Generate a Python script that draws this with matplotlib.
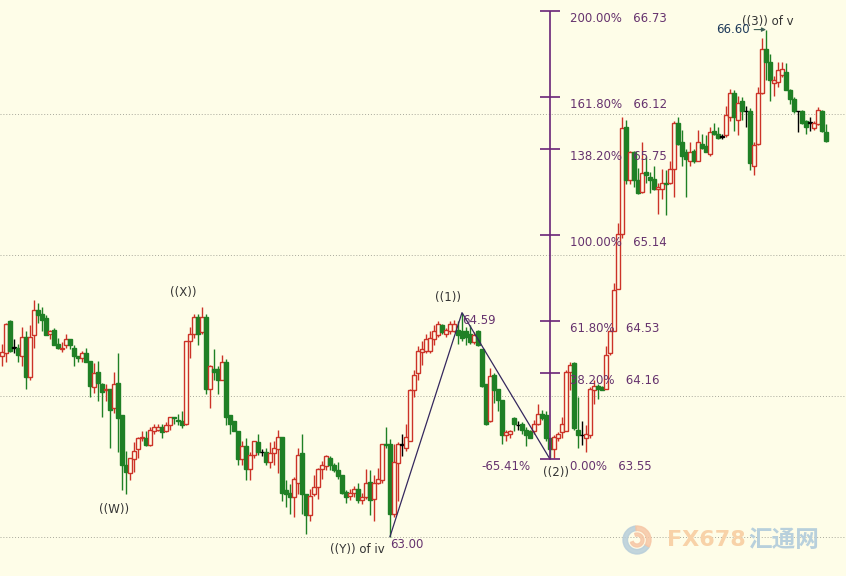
import matplotlib.pyplot as plt
from matplotlib.patches import Rectangle, Wedge

# OHLC of every bar from left to right
opens = [64.28, 64.30, 64.53, 64.34, 64.34, 64.28, 64.42, 64.13, 64.43, 64.61,
         64.58, 64.55, 64.44, 64.47, 64.37, 64.33, 64.36, 64.40, 64.34, 64.28,
         64.27, 64.30, 64.25, 64.06, 64.17, 64.08, 64.04, 64.05, 63.91, 64.09,
         63.86, 63.51, 63.45, 63.55, 63.62, 63.70, 63.70, 63.65, 63.75, 63.76,
         63.78, 63.75, 63.79, 63.85, 63.83, 63.82, 63.80, 64.39, 64.44, 64.56,
         64.45, 64.56, 64.05, 64.19, 64.19, 64.11, 64.24, 63.86, 63.82, 63.75,
         63.55, 63.64, 63.48, 63.58, 63.67, 63.60, 63.60, 63.53, 63.59, 63.62,
         63.71, 63.33, 63.31, 63.28, 63.38, 63.59, 63.30, 63.15, 63.30, 63.35,
         63.48, 63.50, 63.56, 63.51, 63.47, 63.44, 63.32, 63.29, 63.31, 63.34,
         63.26, 63.28, 63.39, 63.27, 63.38, 63.40, 63.66, 63.66, 63.16, 63.52,
         63.65, 63.63, 63.68, 64.04, 64.16, 64.31, 64.32, 64.32, 64.40, 64.43,
         64.50, 64.44, 64.46, 64.46, 64.47, 64.46, 64.46, 64.44, 64.38, 64.46,
         64.33, 64.08, 63.82, 64.15, 64.05, 63.97, 63.72, 63.73, 63.84, 63.79,
         63.80, 63.76, 63.75, 63.75, 63.80, 63.87, 63.86, 63.70, 63.62, 63.70,
         63.74, 63.75, 64.17, 64.23, 63.76, 63.72, 63.70, 63.72, 64.04, 64.07,
         64.06, 64.05, 64.30, 64.46, 64.76, 65.15, 65.91, 65.53, 65.73, 65.53,
         65.45, 65.59, 65.55, 65.54, 65.47, 65.47, 65.51, 65.51, 65.61, 65.94,
         65.80, 65.73, 65.67, 65.74, 65.67, 65.79, 65.77, 65.72, 65.88, 65.86,
         65.84, 65.85, 65.98, 66.15, 65.96, 66.09, 66.02, 66.02, 65.63, 65.79,
         66.15, 66.46, 66.37, 66.22, 66.23, 66.28, 66.30, 66.17, 66.11, 66.02,
         66.02, 65.95, 65.94, 65.90, 65.93, 66.02, 65.87]
highs = [64.37, 64.52, 64.54, 64.40, 64.37, 64.49, 64.46, 64.50, 64.68, 64.66,
         64.63, 64.57, 64.47, 64.48, 64.41, 64.38, 64.44, 64.40, 64.36, 64.28,
         64.32, 64.34, 64.25, 64.23, 64.25, 64.09, 64.08, 64.05, 64.17, 64.30,
         63.86, 63.61, 63.56, 63.67, 63.71, 63.75, 63.75, 63.78, 63.80, 63.80,
         63.80, 63.81, 63.85, 63.85, 63.87, 63.89, 64.39, 64.49, 64.58, 64.58,
         64.63, 64.58, 64.22, 64.33, 64.21, 64.29, 64.26, 63.86, 63.82, 63.75,
         63.68, 63.70, 63.60, 63.68, 63.73, 63.62, 63.63, 63.67, 63.68, 63.76,
         63.71, 63.40, 63.37, 63.42, 63.63, 63.73, 63.30, 63.34, 63.44, 63.49,
         63.54, 63.58, 63.57, 63.52, 63.53, 63.44, 63.33, 63.34, 63.36, 63.38,
         63.31, 63.48, 63.47, 63.44, 63.49, 63.66, 63.78, 63.69, 63.66, 63.67,
         63.73, 63.80, 64.05, 64.18, 64.35, 64.39, 64.44, 64.46, 64.50, 64.53,
         64.51, 64.48, 64.53, 64.54, 64.53, 64.59, 64.49, 64.50, 64.45, 64.47,
         64.33, 64.08, 64.20, 64.16, 64.05, 63.97, 63.76, 63.76, 63.85, 63.82,
         63.81, 63.78, 63.76, 63.83, 63.94, 63.90, 63.89, 63.70, 63.72, 63.74,
         63.85, 64.18, 64.24, 64.24, 63.99, 63.82, 63.79, 64.06, 64.11, 64.08,
         64.07, 64.35, 64.47, 64.80, 65.23, 65.98, 65.96, 65.74, 65.74, 65.62,
         65.80, 65.70, 65.59, 65.63, 65.51, 65.61, 65.60, 65.67, 65.95, 65.98,
         65.89, 65.75, 65.80, 65.75, 65.89, 65.86, 65.85, 65.91, 65.94, 65.91,
         65.86, 66.06, 66.18, 66.17, 66.13, 66.12, 66.06, 66.04, 65.80, 66.19,
         66.54, 66.60, 66.43, 66.27, 66.37, 66.37, 66.36, 66.18, 66.12, 66.02,
         66.03, 65.96, 65.98, 65.95, 66.05, 66.03, 65.93]
lows = [64.21, 64.24, 64.31, 64.30, 64.24, 64.21, 64.05, 64.11, 64.34, 64.52,
        64.46, 64.43, 64.40, 64.36, 64.33, 64.31, 64.34, 64.33, 64.21, 64.24,
        64.24, 64.24, 63.99, 64.02, 63.96, 63.85, 63.96, 63.63, 63.88, 63.60,
        63.33, 63.30, 63.40, 63.46, 63.56, 63.68, 63.64, 63.64, 63.73, 63.75,
        63.70, 63.74, 63.76, 63.80, 63.79, 63.77, 63.79, 64.27, 64.41, 64.36,
        64.44, 64.01, 63.91, 64.11, 64.01, 64.11, 63.79, 63.73, 63.75, 63.51,
        63.51, 63.40, 63.40, 63.56, 63.58, 63.57, 63.51, 63.49, 63.51, 63.45,
        63.25, 63.21, 63.16, 63.14, 63.30, 63.16, 63.02, 63.11, 63.29, 63.27,
        63.41, 63.47, 63.47, 63.46, 63.41, 63.30, 63.24, 63.26, 63.28, 63.24,
        63.23, 63.27, 63.15, 63.11, 63.37, 63.38, 63.63, 63.00, 63.14, 63.25,
        63.57, 63.61, 63.68, 63.99, 64.11, 64.22, 64.30, 64.30, 64.36, 64.42,
        64.44, 64.42, 64.44, 64.45, 64.37, 64.39, 64.36, 64.37, 64.37, 64.35,
        64.06, 63.79, 63.81, 63.95, 63.89, 63.66, 63.68, 63.70, 63.75, 63.76,
        63.73, 63.64, 63.70, 63.73, 63.79, 63.83, 63.68, 63.55, 63.56, 63.68,
        63.70, 63.75, 64.04, 63.76, 63.63, 63.65, 63.60, 63.70, 63.94, 63.98,
        64.04, 64.05, 64.29, 64.46, 64.76, 65.12, 65.50, 65.50, 65.48, 65.43,
        65.44, 65.51, 65.44, 65.46, 65.29, 65.40, 65.28, 65.50, 65.41, 65.78,
        65.63, 65.41, 65.63, 65.65, 65.67, 65.75, 65.73, 65.70, 65.85, 65.82,
        65.82, 65.84, 65.95, 65.88, 65.85, 65.96, 65.91, 65.60, 65.57, 65.78,
        66.14, 66.24, 66.09, 66.13, 66.19, 66.26, 66.17, 66.07, 66.01, 65.87,
        65.93, 65.86, 65.88, 65.89, 65.92, 65.87, 65.80]
closes = [64.31, 64.51, 64.32, 64.34, 64.29, 64.42, 64.13, 64.42, 64.61, 64.57,
          64.54, 64.43, 64.46, 64.36, 64.34, 64.34, 64.40, 64.36, 64.28, 64.27,
          64.30, 64.24, 64.07, 64.16, 64.09, 64.03, 64.05, 63.90, 64.08, 63.84,
          63.51, 63.46, 63.56, 63.61, 63.70, 63.71, 63.65, 63.76, 63.78, 63.78,
          63.74, 63.79, 63.85, 63.84, 63.82, 63.79, 64.39, 64.44, 64.56, 64.44,
          64.56, 64.05, 64.21, 64.17, 64.11, 64.24, 63.85, 63.80, 63.75, 63.55,
          63.64, 63.48, 63.58, 63.68, 63.60, 63.60, 63.53, 63.59, 63.63, 63.71,
          63.31, 63.30, 63.28, 63.41, 63.58, 63.30, 63.15, 63.29, 63.35, 63.48,
          63.51, 63.57, 63.51, 63.47, 63.43, 63.31, 63.28, 63.31, 63.34, 63.26,
          63.28, 63.38, 63.26, 63.38, 63.41, 63.66, 63.65, 63.16, 63.53, 63.66,
          63.65, 63.71, 64.04, 64.15, 64.32, 64.33, 64.40, 64.41, 64.46, 64.51,
          64.45, 64.47, 64.51, 64.51, 64.43, 64.41, 64.42, 64.38, 64.43, 64.36,
          64.07, 63.80, 64.14, 64.04, 63.97, 63.72, 63.74, 63.75, 63.80, 63.79,
          63.76, 63.72, 63.70, 63.80, 63.87, 63.84, 63.70, 63.62, 63.71, 63.73,
          63.80, 64.17, 64.22, 63.77, 63.72, 63.72, 63.73, 64.05, 64.07, 64.05,
          64.04, 64.29, 64.46, 64.75, 65.15, 65.90, 65.53, 65.73, 65.53, 65.44,
          65.58, 65.57, 65.53, 65.47, 65.48, 65.51, 65.50, 65.61, 65.94, 65.79,
          65.70, 65.68, 65.73, 65.67, 65.80, 65.76, 65.73, 65.87, 65.86, 65.83,
          65.84, 65.99, 66.15, 65.98, 66.08, 66.02, 66.02, 65.65, 65.78, 66.15,
          66.46, 66.37, 66.24, 66.24, 66.31, 66.32, 66.17, 66.11, 66.02, 66.02,
          65.94, 65.91, 65.94, 65.94, 66.03, 65.88, 65.81]

grid_levels = [63, 64, 65, 66]

# Fibonacci extension of wave ((1)) measured from the ((2)) low
fib_ratios = ['0.00%', '38.20%', '61.80%', '100.00%', '138.20%', '161.80%', '200.00%']
fib_prices = [63.55, 64.16, 64.53, 65.14, 65.75, 66.12, 66.73]

# wave count pivots (bar index, price)
pivot_bars = [97, 115, 137]
pivot_prices = [63.00, 64.59, 63.55]

bg = '#FEFDE8'
up_color = '#CC3328'
down_color = '#1F8025'
fib_color = '#6A2478'
fib_text = '#66336E'
label_color = '#333333'


def draw_candles(ax, width=0.78):
    for i, (o, h, l, c) in enumerate(zip(opens, highs, lows, closes)):
        if c > o:
            color, face = up_color, bg
        elif c < o:
            color, face = down_color, down_color
        else:
            color, face = 'black', 'black'
        ax.vlines(i, l, h, color=color, lw=1.0, zorder=2)
        ax.add_patch(Rectangle((i - width / 2, min(o, c)), width,
                               max(abs(c - o), 0.004), facecolor=face,
                               edgecolor=color, lw=1.0, zorder=3))


def note(ax, text, xy, offset, color=label_color, ha='center', **kw):
    ax.annotate(text, xy, xytext=offset, textcoords='offset pixels',
                ha=ha, va='center', fontsize=8.5, color=color, zorder=6, **kw)


fig = plt.figure(figsize=(8.46, 5.76), dpi=100, facecolor=bg)
ax = fig.add_axes([0, 0, 1, 1], facecolor=bg)
ax.set_xlim(-0.5, 211)
ax.set_ylim(62.72, 66.81)
ax.axis('off')

for level in grid_levels:
    ax.axhline(level, color='#A9A99C', lw=0.7, ls=(0, (1, 2)), zorder=1)

draw_candles(ax)

# wave lines ((Y)) -> ((1)) -> ((2))
ax.plot(pivot_bars, pivot_prices, color='#35285E', lw=0.9, zorder=4)

# fib tool: vertical spine with a tick at every level
fib_x = pivot_bars[2]
ax.vlines(fib_x, fib_prices[0], fib_prices[-1], color=fib_color, lw=1.2, zorder=4)
ax.hlines(fib_prices, fib_x - 2.5, fib_x + 2.5, color=fib_color, lw=1.2, zorder=4)
for ratio, price in zip(fib_ratios, fib_prices):
    note(ax, f'{ratio}   {price:.2f}', (fib_x, price), (20, -7),
         color=fib_text, ha='left')

# Elliott wave labels
note(ax, '((W))', (31, lows[31]), (-12, -15))
note(ax, '((X))', (50, highs[50]), (-19, 15))
note(ax, '((Y)) of iv', (97, lows[97]), (-33, -13))
note(ax, '63.00', (97, lows[97]), (0, -8), color=fib_text, ha='left')
note(ax, '((1))', (115, highs[115]), (-14, 15))
note(ax, '64.59', (115, highs[115]), (0, -8), color=fib_text, ha='left')
note(ax, '((2))', (137, lows[137]), (6, -13))
note(ax, '-65.41%', (137, lows[137]), (-44, -7), color=fib_text)
note(ax, '((3)) of v', (191, highs[191]), (2, 8))
ax.annotate('66.60', (191, highs[191]), xytext=(-16, 0),
            textcoords='offset pixels', ha='right', va='center',
            fontsize=8.5, color='#1E3A5A', zorder=6,
            arrowprops=dict(arrowstyle='-|>', color='#3F5F55', lw=0.8,
                            mutation_scale=6, shrinkA=1, shrinkB=0))

# faded site watermark, bottom right
for t1, t2, col in [(95, 330, '#B8CEDA'), (330, 455, '#F6C7A6')]:
    fig.patches.append(Wedge((6.37, 0.36), 0.14, t1, t2, width=0.045,
                             transform=fig.dpi_scale_trans, color=col,
                             alpha=0.85))
fig.patches.append(Wedge((6.37, 0.36), 0.07, 200, 470, width=0.03,
                         transform=fig.dpi_scale_trans, color='#F6C7A6',
                         alpha=0.85))
fig.text(667 / 846, 36 / 576, 'FX678', fontsize=16, fontweight='bold',
         color='#F8D2A8', va='center', ha='left')
fig.text(748 / 846, 36 / 576, '汇通网', fontsize=17, fontweight='bold',
         family=['Noto Sans CJK SC', 'DejaVu Sans'], color='#B8D0DC',
         va='center', ha='left')

fig.savefig('out.png', dpi=100, facecolor=bg)
